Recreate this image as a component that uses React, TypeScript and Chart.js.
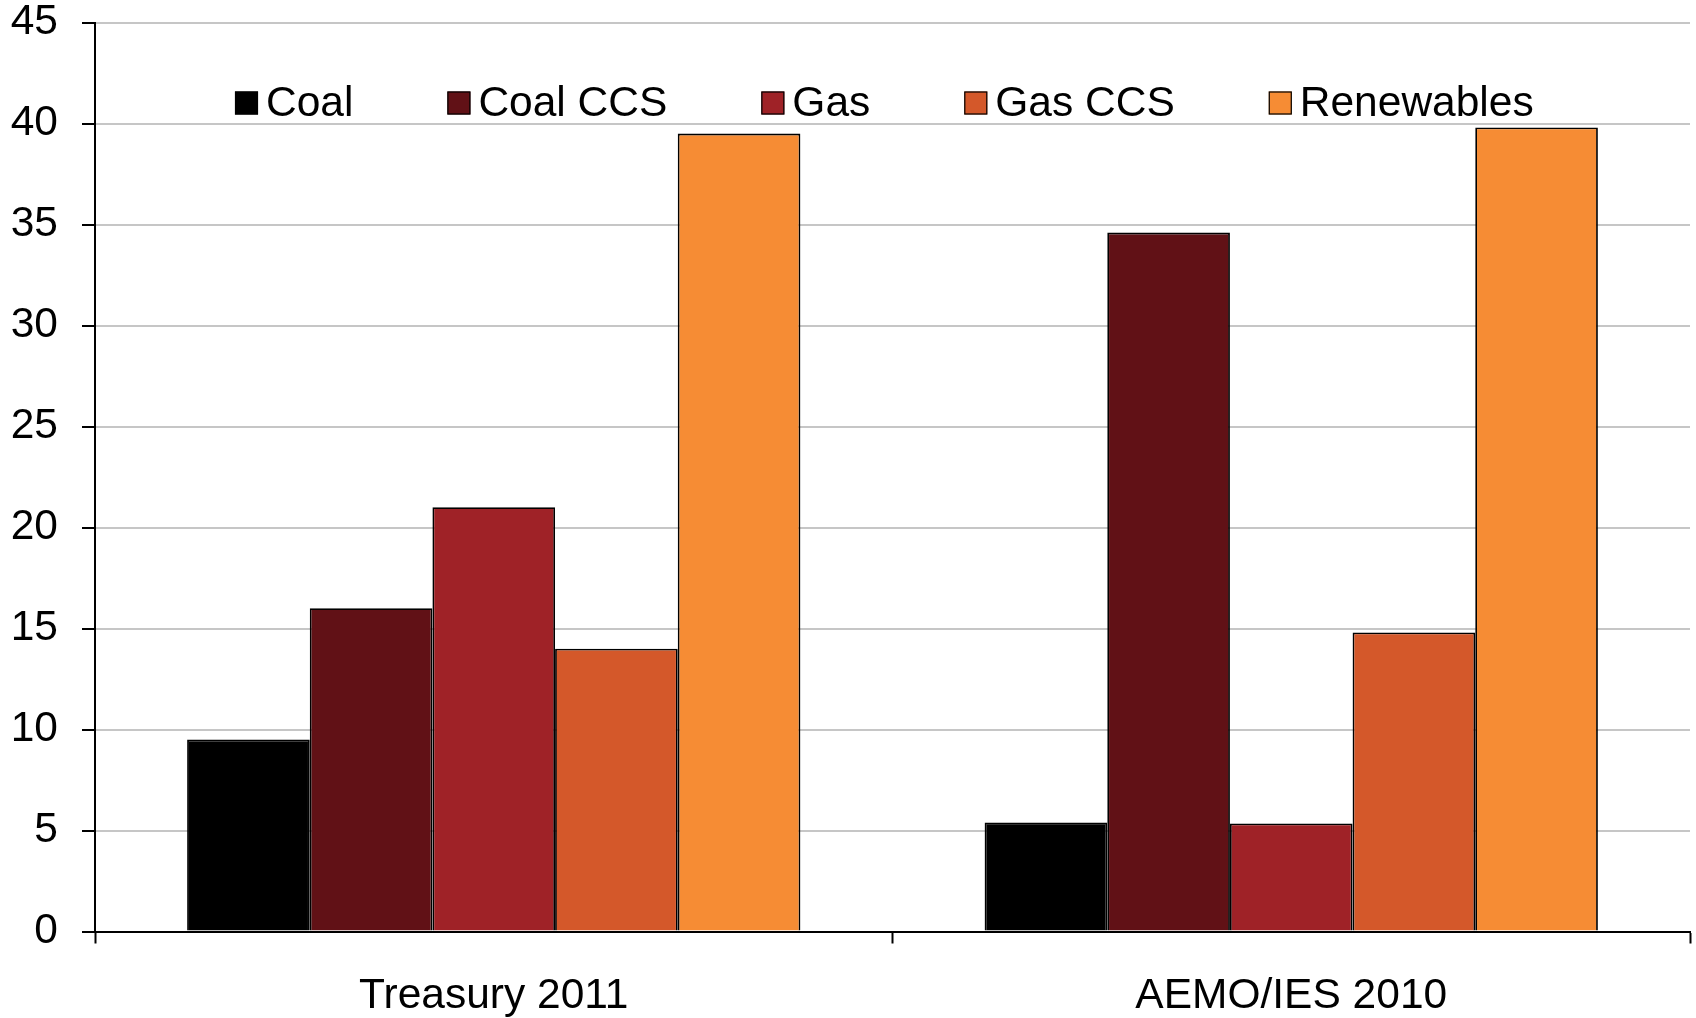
import React, { useEffect, useRef } from "react";
import { Chart, registerables } from "chart.js";

Chart.register(...registerables);

const categories = ["Treasury 2011", "AEMO/IES 2010"];
const seriesNames = ["Coal", "Coal CCS", "Gas", "Gas CCS", "Renewables"];
const coal = [9.5, 5.4];
const coalCcs = [16, 34.6];
const gas = [21, 5.35];
const gasCcs = [14, 14.8];
const renewables = [39.5, 39.8];
const seriesColors = ["#000000", "#611116", "#9f2227", "#d4582a", "#f68c34"];
const yMin = 0;
const yMax = 45;
const yStep = 5;

const FONT = '"Liberation Sans", Arial, sans-serif';
const FONT_SIZE = 42.5;

const insideLegend = {
  id: "insideLegend",
  afterDatasetsDraw(chart: any) {
    const { ctx, chartArea } = chart;
    ctx.save();
    ctx.font = `${FONT_SIZE}px ${FONT}`;
    ctx.textBaseline = "middle";
    ctx.textAlign = "left";
    let x = chartArea.left + 140;
    const cy = chartArea.top + 80.5;
    const box = 23;
    chart.data.datasets.forEach((ds: any) => {
      ctx.fillStyle = ds.backgroundColor;
      ctx.fillRect(x, cy - box / 2, box, box);
      ctx.strokeStyle = "#000";
      ctx.lineWidth = 1.2;
      ctx.strokeRect(x + 0.5, cy - box / 2 + 0.5, box - 1, box - 1);
      x += box + 8;
      ctx.fillStyle = "#000";
      ctx.fillText(ds.label, x, cy + 1);
      x += ctx.measureText(ds.label).width + 94;
    });
    ctx.restore();
  },
};

export default function App() {
  const canvasRef = useRef<HTMLCanvasElement | null>(null);

  useEffect(() => {
    if (!canvasRef.current) return;
    const values = [coal, coalCcs, gas, gasCcs, renewables];
    const chart = new Chart(canvasRef.current, {
      type: "bar",
      data: {
        labels: categories,
        datasets: seriesNames.map((name, i) => ({
          label: name,
          data: values[i],
          backgroundColor: seriesColors[i],
          borderColor: "#000",
          borderWidth: 1.8,
          categoryPercentage: 0.769,
          barPercentage: 1,
        })),
      },
      options: {
        animation: false,
        responsive: true,
        maintainAspectRatio: false,
        layout: { padding: { left: 0, right: 6, top: 22.5, bottom: 0 } },
        plugins: {
          legend: { display: false },
          tooltip: { enabled: false },
        },
        scales: {
          x: {
            grid: {
              display: true,
              drawOnChartArea: false,
              drawTicks: true,
              tickLength: 12,
              tickColor: "#000",
              tickWidth: 2,
              offset: true,
            },
            border: { display: true, color: "#000", width: 2 },
            ticks: {
              color: "#000",
              padding: 27,
              font: { family: FONT, size: FONT_SIZE, lineHeight: 1.2 },
            },
            afterFit: (scale: any) => {
              scale.height = 86.5;
            },
          },
          y: {
            min: yMin,
            max: yMax,
            grid: {
              color: "#c6c6c6",
              lineWidth: 2,
              drawTicks: true,
              tickLength: 13,
              tickColor: "#000",
              tickWidth: 2,
            },
            border: { display: true, color: "#000", width: 2 },
            ticks: {
              stepSize: yStep,
              color: "#000",
              padding: 24,
              font: { family: FONT, size: FONT_SIZE, lineHeight: 1 },
            },
            afterFit: (scale: any) => {
              scale.width = 95;
              scale.paddingTop = 0;
              scale.paddingBottom = 0;
            },
          },
        },
      },
      plugins: [insideLegend],
    });
    return () => chart.destroy();
  }, []);

  return (
    <div style={{ position: "absolute", left: 0, top: 0, width: 1696, height: 1018, background: "#fff" }}>
      <canvas ref={canvasRef} />
    </div>
  );
}
